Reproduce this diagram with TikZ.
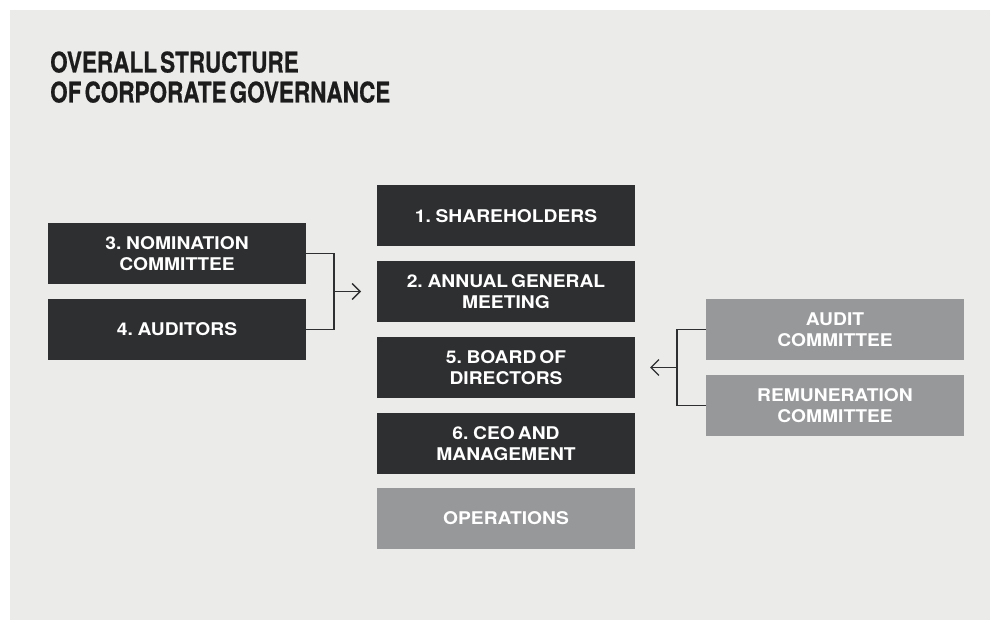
\documentclass[tikz,border=0pt]{standalone}
\usepackage{fontspec}
\setmainfont{TeX Gyre Heros}
\newfontfamily\titlefont{texgyreheros-bold.otf}[FakeStretch=0.79, FakeBold=0.6, WordSpace=0.5]
\newfontfamily\boxfont{texgyreheros-bold.otf}[FakeStretch=1.1, WordSpace=0.55]
\usetikzlibrary{arrows.meta}
\definecolor{bgGrey}{HTML}{EBECE9}
\definecolor{darkBox}{HTML}{2E2F31}
\definecolor{lightBox}{HTML}{97989A}

\begin{document}
\begin{tikzpicture}[x=1pt, y=-1pt,
    box/.style={minimum width=258pt, minimum height=61pt, inner sep=0pt, align=center, text=white,
        font=\boxfont\fontsize{17.5}{21}\selectfont},
    dark/.style={box, fill=darkBox},
    light/.style={box, fill=lightBox},
    link/.style={line width=1.3pt, draw=darkBox}]
    \useasboundingbox (0,0) rectangle (990,620);
    \fill[bgGrey] (10,10) rectangle (990,620);
    % title
    \node[anchor=base west, inner sep=0pt, text=darkBox!60!black, font=\titlefont\fontsize{28.5}{30}\selectfont] (title1) at (50,72.5) {OVERALL STRUCTURE};
    \node[anchor=base west, inner sep=0pt, text=darkBox!60!black, font=\titlefont\fontsize{28.5}{30}\selectfont] (title2) at (50,102.5) {OF CORPORATE GOVERNANCE};
    % centre column
    \node[dark] (sh) at (506,216) {1. SHAREHOLDERS};
    \node[dark] (agm) at (506,291.5) {2. ANNUAL GENERAL\\MEETING};
    \node[dark] (bod) at (506,367.5) {5. BOARD OF\\DIRECTORS};
    \node[dark] (ceo) at (506,443.5) {6. CEO AND\\MANAGEMENT};
    \node[light] (ops) at (506,518.5) {OPERATIONS};
    % left column
    \node[dark] (nom) at (177,253.5) {3. NOMINATION\\COMMITTEE};
    \node[dark] (aud) at (177,329.5) {4. AUDITORS};
    % right column
    \node[light] (audc) at (835,329.5) {AUDIT\\COMMITTEE};
    \node[light] (rem) at (835,405.5) {REMUNERATION\\COMMITTEE};
    % connectors
    \coordinate (jl) at (334,291.5);
    \coordinate (al) at (361,291.5);
    \coordinate (jr) at (677,367.5);
    \coordinate (ar) at (650,367.5);
    \draw[link] (nom.east) -| (jl) |- (aud.east);
    \draw[link, -{Straight Barb[length=8pt, width=16pt, line width=1.3pt]}] (jl) -- (al);
    \draw[link] (audc.west) -| (jr) |- (rem.west);
    \draw[link, -{Straight Barb[length=8pt, width=16pt, line width=1.3pt]}] (jr) -- (ar);
\end{tikzpicture}
\end{document}
